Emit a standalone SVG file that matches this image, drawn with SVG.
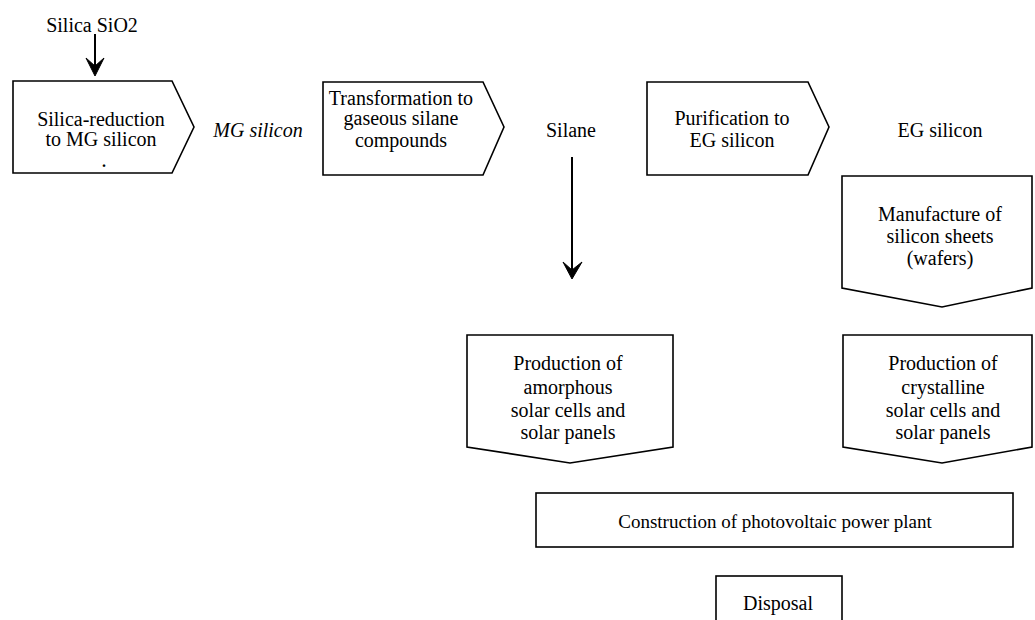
<svg xmlns="http://www.w3.org/2000/svg" width="1035" height="620" viewBox="0 0 1035 620">
<style>
.box{fill:#fff;stroke:#000;stroke-width:1.6;stroke-linejoin:miter}
.t{font-family:"Liberation Serif","Times New Roman",serif;font-size:20px;fill:#000;text-anchor:middle}
.i{font-style:italic}
.ln{stroke:#000;stroke-width:2;fill:none}
.ah{fill:#000;stroke:#000;stroke-width:1}
</style>
<rect width="1035" height="620" fill="#fff"/>
<g id="connectors">
<line class="ln" x1="95" y1="34" x2="95" y2="70"/>
<path class="ah" d="M95,76 L86,58 L95,66 L104,58 Z"/>
<line class="ln" x1="572" y1="157" x2="572" y2="272"/>
<path class="ah" d="M572,279 L563,262 L572,270 L582,262 Z"/>
</g>
<g id="silica-label"><text class="t" x="92" y="32">Silica SiO2</text></g>
<g id="silica-reduction">
<polygon class="box" points="13,81 172,81 194,127 172,173 13,173"/>
<text class="t" x="101" y="126">Silica-reduction</text>
<text class="t" x="101" y="146">to MG silicon</text>
<text class="t" x="104" y="167" style="font-size:16px;font-weight:bold">.</text>
</g>
<g id="mg-silicon"><text class="t i" x="258" y="137">MG silicon</text></g>
<g id="transformation">
<polygon class="box" points="323,82 483,82 504,127 483,175 323,175"/>
<text class="t" x="401" y="105">Transformation to</text>
<text class="t" x="401" y="125">gaseous silane</text>
<text class="t" x="401" y="147">compounds</text>
</g>
<g id="silane"><text class="t" x="571" y="137">Silane</text></g>
<g id="purification">
<polygon class="box" points="647,82 808,82 829,127 808,175 647,175"/>
<text class="t" x="732" y="125">Purification to</text>
<text class="t" x="732" y="147">EG silicon</text>
</g>
<g id="eg-silicon"><text class="t" x="940" y="137">EG silicon</text></g>
<g id="manufacture">
<polygon class="box" points="842,176 1032,176 1032,288 942,307 842,288"/>
<text class="t" x="940" y="221">Manufacture of</text>
<text class="t" x="940" y="243">silicon sheets</text>
<text class="t" x="940" y="265">(wafers)</text>
</g>
<g id="amorphous">
<polygon class="box" points="467,335 673,335 673,447 570,463 467,447"/>
<text class="t" x="568" y="370">Production of</text>
<text class="t" x="568" y="394">amorphous</text>
<text class="t" x="568" y="417">solar cells and</text>
<text class="t" x="568" y="439">solar panels</text>
</g>
<g id="crystalline">
<polygon class="box" points="843,335 1032,335 1032,447 942,463 843,447"/>
<text class="t" x="943" y="370">Production of</text>
<text class="t" x="943" y="394">crystalline</text>
<text class="t" x="943" y="417">solar cells and</text>
<text class="t" x="943" y="439">solar panels</text>
</g>
<g id="construction">
<rect class="box" x="536" y="493" width="477" height="54"/>
<text class="t" x="775" y="528" style="font-size:19px">Construction of photovoltaic power plant</text>
</g>
<g id="disposal">
<rect class="box" x="716" y="576" width="126" height="50"/>
<text class="t" x="778" y="610">Disposal</text>
</g>
</svg>
